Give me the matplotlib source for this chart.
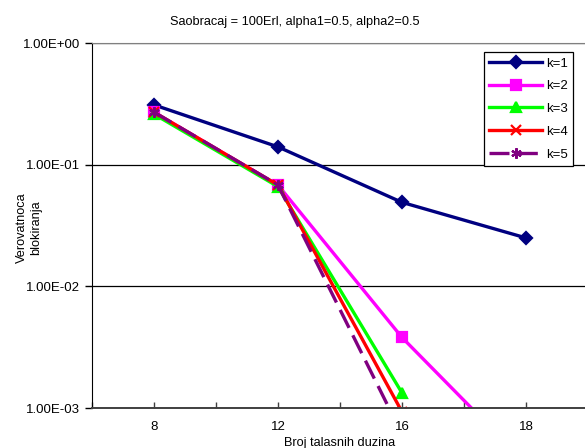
import numpy as np
import matplotlib

matplotlib.use("Agg")
import matplotlib.pyplot as plt
from matplotlib.ticker import FixedLocator, NullFormatter

# category axis (evenly spaced in the original Excel chart)
categories = ["8", "12", "16", "18"]

# blocking probability per k; nan = point not readable (below 1e-3)
k1 = [0.31, 0.14, 0.049, 0.025]
k2 = [0.27, 0.068, 0.0038, 0.00035]
k3 = [0.26, 0.066, 0.00133, np.nan]
k4 = [0.27, 0.068, 0.00093, np.nan]
k5 = [0.27, 0.068, 0.00061, np.nan]

y_ticks = [1e-3, 1e-2, 1e-1, 1e0]
y_tick_labels = ["1.00E-03", "1.00E-02", "1.00E-01", "1.00E+00"]

plt.rcParams["font.family"] = ["Liberation Sans", "DejaVu Sans"]

fig = plt.figure(figsize=(5.85, 4.48), dpi=100)
ax = fig.add_axes([92 / 585, 40 / 448, 496 / 585, 365 / 448])

x = np.arange(len(categories))
styles = [
    ("k=1", k1, "#000080", "D", 6, "-"),
    ("k=2", k2, "#FF00FF", "s", 6.5, "-"),
    ("k=3", k3, "#00FF00", "^", 7, "-"),
    ("k=4", k4, "#FF0000", "x", 6.5, "-"),
    ("k=5", k5, "#800080", (6, 2, 0), 7.5, (0, (6, 2.5))),
]
for label, vals, color, marker, ms, ls in styles:
    ax.plot(x, vals, color=color, linestyle=ls, linewidth=2.4,
            marker=marker, markersize=ms, markeredgewidth=1.6,
            markerfacecolor=color, markeredgecolor=color, label=label)

ax.set_yscale("log")
ax.set_ylim(1e-3, 1e0)
ax.set_xlim(-0.5, len(categories) - 0.5)

ax.yaxis.set_major_locator(FixedLocator(y_ticks))
ax.set_yticklabels(y_tick_labels)
ax.yaxis.set_minor_locator(FixedLocator([]))
ax.yaxis.set_minor_formatter(NullFormatter())
ax.tick_params(axis="y", direction="out", length=5, width=1, labelsize=9.5)

ax.set_xticks(x)
ax.set_xticklabels(categories)
ax.set_xticks(np.arange(-0.5, len(categories), 1.0), minor=True)
ax.tick_params(axis="x", which="both", direction="in", length=4, width=1,
               labelsize=9.5, pad=9, color="#404040")

ax.grid(True, axis="y", which="major", color="black", linewidth=0.9)
ax.set_axisbelow(True)
for side in ("top", "right"):
    ax.spines[side].set_color("#808080")
ax.spines["left"].set_color("black")
ax.spines["bottom"].set_color("#404040")
ax.spines["bottom"].set_linewidth(1.4)

fig.text(295 / 585, 1 - 22 / 448, "Saobracaj = 100Erl, alpha1=0.5, alpha2=0.5",
         ha="center", va="center", fontsize=9.2)
fig.text(29 / 585, 1 - 228 / 448, "Verovatnoca\nblokiranja", rotation=90,
         ha="center", va="center", fontsize=9.2, multialignment="center")
fig.text(340 / 585, 1 - 443 / 448, "Broj talasnih duzina",
         ha="center", va="center", fontsize=9.2)

leg = ax.legend(loc="upper right", bbox_to_anchor=(573 / 585, 1 - 52 / 448),
                bbox_transform=fig.transFigure, fontsize=9.5, handlelength=4.0,
                handletextpad=0.3, labelspacing=0.8, borderpad=0.4,
                fancybox=False, framealpha=1, borderaxespad=0)
leg.get_frame().set_edgecolor("black")
leg.get_frame().set_linewidth(0.9)

fig.savefig("out.png", dpi=100)
